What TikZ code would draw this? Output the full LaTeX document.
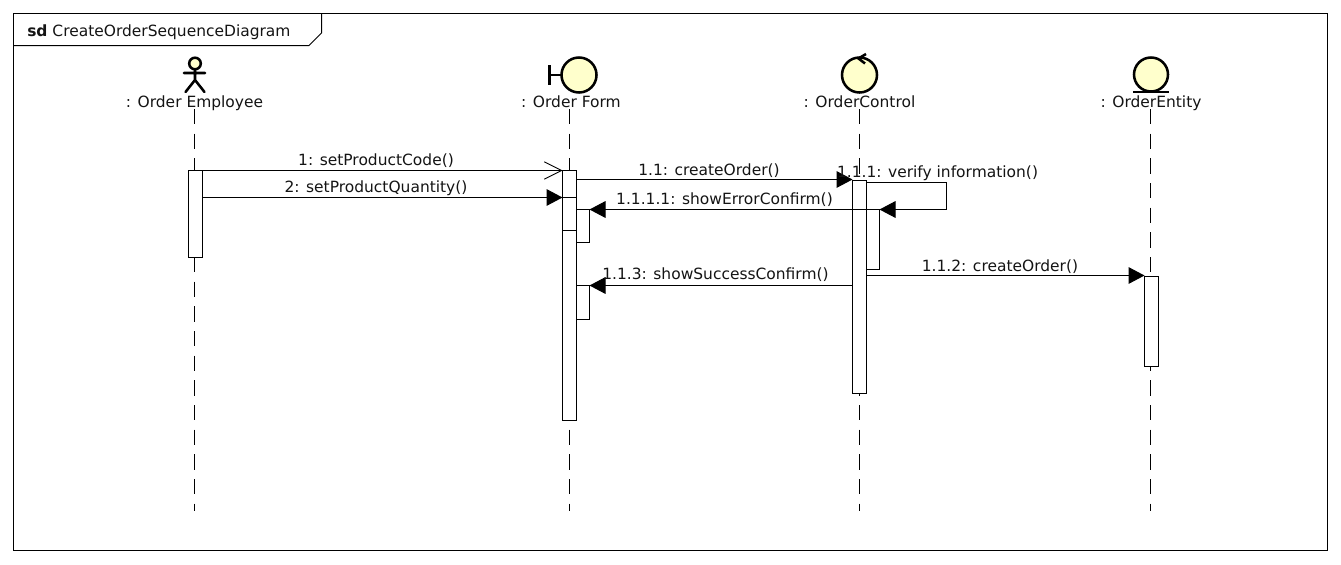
\documentclass[tikz,border=0pt]{standalone}
\usepackage{fontspec}
\setmainfont{DejaVu Sans}
\usetikzlibrary{arrows.meta}
\definecolor{lemon}{HTML}{FFFFCC}
\tikzset{
  x=0.75pt,y=-0.75pt,
  label text/.style={inner sep=0pt,font=\fontsize{11.6pt}{13pt}\selectfont,text=black!92},
  lifeline/.style={draw=black,line width=0.75pt,dash pattern=on 11.5pt off 7pt},
  activation/.style={draw=black,fill=white,line width=0.75pt,rectangle,inner sep=0pt,outer sep=0pt,minimum width=10.125pt},
  openmsg/.style={draw=black,line width=0.75pt,-{Straight Barb[length=13pt,width=13pt,line width=0.6pt]}},
  solidmsg/.style={draw=black,line width=0.75pt,-{Triangle[length=12pt,width=12.5pt]}},
  icon/.style={draw=black,line width=1.9pt,fill=lemon},
  iconline/.style={draw=black,line width=1.9pt},
}
\newcommand{\actbox}[4]{\node[activation,minimum height=#4*0.75pt-#3*0.75pt,anchor=north west] (#1) at (#2,#3) {};}
\begin{document}
\begin{tikzpicture}
\useasboundingbox (0,0) rectangle (1341,564);
\fill[white] (0,0) rectangle (1341,564);

% frame
\draw[line width=0.75pt] (13.5,13.5) rectangle (1327.5,550.5);
\draw[line width=0.75pt] (13.5,45.5) -- (309,45.5) -- (321.5,33) -- (321.5,13.5);
\node[label text,anchor=base west] (title) at (27,36.7) {\textbf{sd} CreateOrderSequenceDiagram};

% lifeline heads
\coordinate (hA) at (194.5,109);
\coordinate (hB) at (569.5,109);
\coordinate (hC) at (859,109);
\coordinate (hD) at (1150.5,109);
\coordinate (eA) at (194.5,511);
\coordinate (eB) at (569.5,511);
\coordinate (eC) at (859,511);
\coordinate (eD) at (1150.5,511);
\draw[lifeline] (hA) -- (eA);
\draw[lifeline] (hB) -- (eB);
\draw[lifeline] (hC) -- (eC);
\draw[lifeline] (hD) -- (eD);

\node[label text,anchor=base] (lA) at (194.5,107.7) {: Order Employee};
\node[label text,anchor=base] (lB) at (571,107.7) {: Order Form};
\node[label text,anchor=base] (lC) at (859.5,107.7) {: OrderControl};
\node[label text,anchor=base] (lD) at (1151,107.7) {: OrderEntity};

% actor
\draw[iconline,line cap=round] (195,69) -- (195,80) (184,73) -- (205,73) (185.5,92) -- (195,80) -- (204.5,92);
\draw[icon] (195,63.5) circle[radius=5.8];
% boundary
\draw[iconline] (549.5,65) -- (549.5,85) (549.5,75) -- (561,75);
\draw[icon] (579,75) circle[radius=17.5];
% control
\draw[icon] (859.5,75) circle[radius=17.5];
\draw[iconline] (866,54) -- (858.5,58.5) -- (865,63.5);
% entity
\draw[icon] (1151,74.5) circle[radius=17];
\draw[iconline] (1133,92) -- (1169,92);

% activations
\actbox{aA}{188.5}{170.5}{257.5}
\actbox{aB}{562.5}{170.5}{420.5}
\actbox{aBtwo}{576}{209.5}{242.5}
\actbox{aBthree}{576}{285.5}{319.5}
\actbox{aC}{852.5}{180.5}{393.5}
\actbox{aCtwo}{866}{209.5}{269.5}
\actbox{aD}{1144.5}{276.5}{366.5}
\draw[line width=0.75pt] (aB.west |- 0,197.5) -- (aB.east |- 0,197.5);
\draw[line width=0.75pt] (aB.west |- 0,230.5) -- (aB.east |- 0,230.5);

% message rows
\coordinate (mOne) at (0,170.5);
\coordinate (mTwo) at (0,197.5);
\coordinate (mCreate) at (0,179.5);
\coordinate (mVerTop) at (0,182.5);
\coordinate (mVerBot) at (0,209.5);
\coordinate (mErr) at (0,209.5);
\coordinate (mEnt) at (0,275.5);
\coordinate (mOk) at (0,285.5);
\coordinate (turn) at (946.5,0);

\draw[openmsg] (aA.east |- mOne) -- (aB.west |- mOne);
\draw[solidmsg] (aA.east |- mTwo) -- (aB.west |- mTwo);
\draw[solidmsg] (aB.east |- mCreate) -- (aC.west |- mCreate);
\draw[solidmsg] (aC.east |- mVerTop) -- (turn |- mVerTop) -- (turn |- mVerBot) -- (aCtwo.east |- mVerBot);
\draw[solidmsg] (aC.east |- mErr) -- (aBtwo.east |- mErr);
\draw[solidmsg] (aC.east |- mEnt) -- (aD.west |- mEnt);
\draw[solidmsg] (aC.west |- mOk) -- (aBthree.east |- mOk);

% message labels
\node[label text,anchor=base] (t1) at (376,165.5) {1: setProductCode()};
\node[label text,anchor=base] (t2) at (376,192.5) {2: setProductQuantity()};
\node[label text,anchor=base] (t3) at (709,175.5) {1.1: createOrder()};
\node[label text,anchor=base] (t4) at (937.5,177.5) {1.1.1: verify information()};
\node[label text,anchor=base] (t5) at (724.5,204.5) {1.1.1.1: showErrorConfirm()};
\node[label text,anchor=base] (t6) at (1000,271) {1.1.2: createOrder()};
\node[label text,anchor=base] (t7) at (715.5,279.3) {1.1.3: showSuccessConfirm()};
\end{tikzpicture}
\end{document}
